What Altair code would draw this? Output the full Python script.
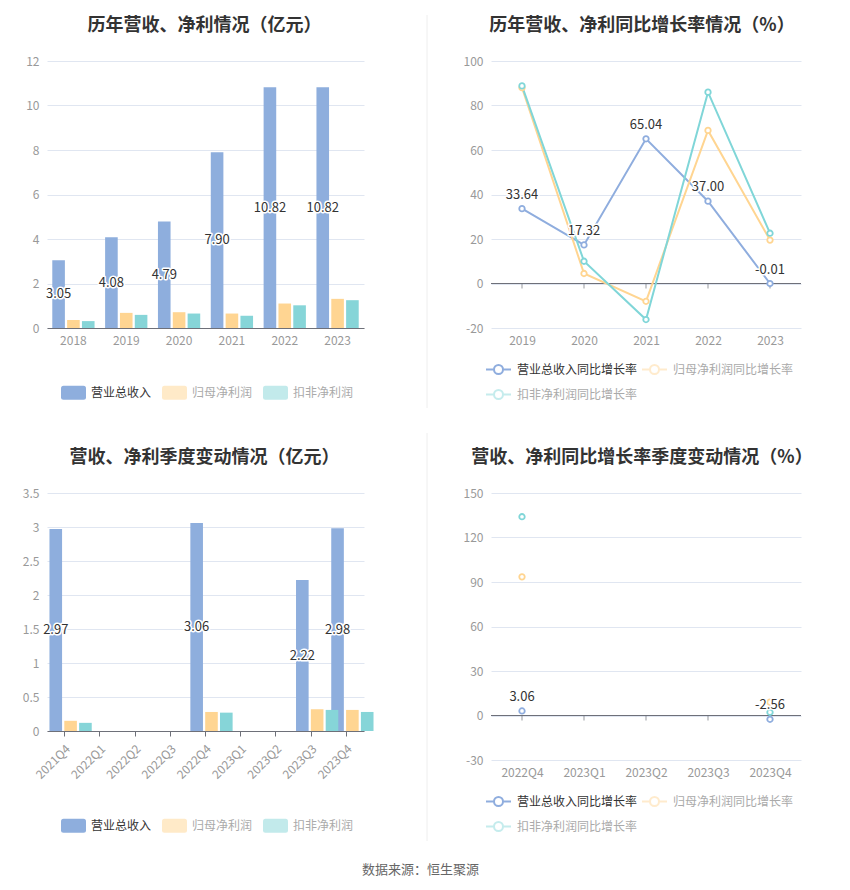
import altair as alt
import pandas as pd

# ---------------- data ----------------
years = ["2018", "2019", "2020", "2021", "2022", "2023"]
revenue = [3.05, 4.08, 4.79, 7.90, 10.82, 10.82]
net_profit = [0.36, 0.68, 0.71, 0.65, 1.10, 1.31]
deducted_profit = [0.31, 0.59, 0.65, 0.55, 1.02, 1.25]

growth_years = ["2019", "2020", "2021", "2022", "2023"]
revenue_growth = [33.64, 17.32, 65.04, 37.00, -0.01]
net_profit_growth = [88.0, 4.5, -8.0, 68.8, 19.5]
deducted_growth = [88.8, 10.0, -16.2, 86.0, 22.6]

quarters = ["2021Q4", "2022Q1", "2022Q2", "2022Q3", "2022Q4",
            "2023Q1", "2023Q2", "2023Q3", "2023Q4"]
q_revenue = [2.97, None, None, None, 3.06, None, None, 2.22, 2.98]
q_net_profit = [0.15, None, None, None, 0.28, None, None, 0.32, 0.31]
q_deducted = [0.12, None, None, None, 0.27, None, None, 0.31, 0.28]

growth_quarters = ["2022Q4", "2023Q1", "2023Q2", "2023Q3", "2023Q4"]
qg_revenue = [3.06, None, None, None, -2.56]
qg_net_profit = [93.5, None, None, None, 9.0]
qg_deducted = [134.0, None, None, None, 2.2]

bar_series = ["营业总收入", "归母净利润", "扣非净利润"]
growth_series = ["营业总收入同比增长率", "归母净利润同比增长率", "扣非净利润同比增长率"]

titles = ["历年营收、净利情况（亿元）", "历年营收、净利同比增长率情况（%）",
          "营收、净利季度变动情况（亿元）", "营收、净利同比增长率季度变动情况（%）"]
source_text = "数据来源：恒生聚源"

# ---------------- style ----------------
FONT = "Noto Sans CJK SC"
BLUE, ORANGE, TEAL = "#8EAEDD", "#FFD592", "#86D5D8"
LINE_COLORS = ["#8FADDE", "#FFD591", "#80D6D8"]
AXIS = "#6E7079"
LABEL = "#999999"
GRID = "#E0E6F1"
DIVIDER = "#EEEEEE"

RECT_PATH = ("M-0.8,-0.56 L0.8,-0.56 Q1,-0.56 1,-0.36 L1,0.36 Q1,0.56 0.8,0.56 "
             "L-0.8,0.56 Q-1,0.56 -1,0.36 L-1,-0.36 Q-1,-0.56 -0.8,-0.56 Z")
LINE_PATH = ("M-1,0 L-0.36,0 M0.36,0 L1,0 M-0.36,0 A0.36,0.36 0 1 1 0.36,0 "
             "A0.36,0.36 0 1 1 -0.36,0 Z")
NUM_LABEL = "'' + datum.value"


def to_long(cats, names, cols):
    rows = []
    for n, col in zip(names, cols):
        for c, v in zip(cats, col):
            if v is not None:
                rows.append({"cat": c, "series": n, "value": v, "label": f"{v:.2f}"})
    return pd.DataFrame(rows)


def panel_title(text, dx):
    return alt.TitleParams(text, font=FONT, fontSize=18, fontWeight="bold",
                           color="#333333", anchor="middle", frame="group",
                           offset=20, dx=dx)


def y_axis(values):
    return alt.Axis(title=None, values=values, labelExpr=NUM_LABEL, domain=False,
                    ticks=False, grid=True, gridColor=GRID, gridWidth=1, labelColor=LABEL,
                    labelFontSize=12, labelFont=FONT, labelPadding=8)


def divider_view(h, y_top, y_bottom):
    return alt.Chart(pd.DataFrame({"d": [0]})).mark_rule(
        color=DIVIDER, strokeWidth=1).encode(
        x=alt.value(0), y=alt.value(y_top), y2=alt.value(y_bottom)).properties(
        width=1, height=h)


def bar_panel(df, cats, title, w, h, ymax, yvals, pad_inner, legend_y,
              label_angle, show_ticks):
    first = bar_series[0]
    legend = alt.Legend(
        title=None, orient="none", legendX=14, legendY=legend_y,
        direction="horizontal", symbolType=RECT_PATH, symbolSize=625,
        symbolStrokeWidth=0, labelFont=FONT, labelFontSize=12, labelOffset=5,
        columnPadding=10,
        symbolOpacity=alt.ExprRef(expr=f"datum.value === '{first}' ? 1 : 0.5"),
        labelColor=alt.ExprRef(expr=f"datum.value === '{first}' ? '#333333' : '#AAAAAA'"))
    x = alt.X("cat:N", sort=cats,
              scale=alt.Scale(domain=cats, paddingInner=pad_inner, paddingOuter=pad_inner / 2),
              axis=alt.Axis(title=None, labelAngle=label_angle, ticks=show_ticks, tickSize=5,
                            tickColor=AXIS, domainColor=AXIS, labelColor=LABEL,
                            labelFontSize=12, labelFont=FONT, labelPadding=7, grid=False))
    xo = alt.XOffset("series:N", sort=bar_series,
                     scale=alt.Scale(domain=bar_series, paddingInner=0.15))
    yscale = alt.Scale(domain=[0, ymax], nice=False)
    y = alt.Y("value:Q", scale=yscale, axis=y_axis(yvals))
    color = alt.Color("series:N", sort=bar_series,
                      scale=alt.Scale(domain=bar_series, range=[BLUE, ORANGE, TEAL]),
                      legend=legend)
    base = alt.Chart(df)
    bars = base.mark_bar().encode(x=x, xOffset=xo, y=y, color=color)
    lab = base.transform_filter(alt.datum.series == first).transform_calculate(
        mid="datum.value / 2").encode(
        x=x, xOffset=xo, y=alt.Y("mid:Q", scale=yscale, axis=y_axis(yvals)),
        text=alt.Text("label:N"))
    halo = lab.mark_text(font=FONT, fontSize=13, stroke="white", strokeWidth=3,
                         strokeJoin="round", fill="white")
    txt = lab.mark_text(font=FONT, fontSize=13, color="#333333")
    return alt.layer(bars, halo, txt).properties(
        width=w, height=h, title=panel_title(title, -1))


def line_panel(df, cats, title, w, h, ymin, ymax, yvals, legend_y, draw_lines):
    first = growth_series[0]
    legend = alt.Legend(
        title=None, orient="none", legendX=-6, legendY=legend_y,
        direction="horizontal", columns=2, symbolType=LINE_PATH, symbolSize=625,
        symbolStrokeWidth=2, symbolFillColor="white", labelFont=FONT, labelFontSize=12,
        labelOffset=5, columnPadding=0, rowPadding=3,
        symbolOpacity=alt.ExprRef(expr=f"datum.value === '{first}' ? 1 : 0.45"),
        labelColor=alt.ExprRef(expr=f"datum.value === '{first}' ? '#333333' : '#AAAAAA'"))
    x = alt.X("cat:N", sort=cats, scale=alt.Scale(type="point", domain=cats, padding=0.5),
              axis=alt.Axis(title=None, domain=False, ticks=False, labelAngle=0,
                            labelColor=LABEL, labelFontSize=12, labelFont=FONT,
                            labelPadding=7, grid=False))
    y = alt.Y("value:Q", scale=alt.Scale(domain=[ymin, ymax], nice=False, zero=False),
              axis=y_axis(yvals))
    color = alt.Color("series:N", sort=growth_series,
                      scale=alt.Scale(domain=growth_series, range=LINE_COLORS),
                      legend=legend)
    base = alt.Chart(df)
    zero = alt.Chart(pd.DataFrame({"z": [0]})).mark_rule(color=AXIS, strokeWidth=1).encode(
        y=alt.datum(0))
    tks = alt.Chart(pd.DataFrame({"cat": cats})).mark_tick(
        orient="vertical", size=5, thickness=1, color=AXIS, yOffset=2.5).encode(
        x=x, y=alt.datum(0))
    layers = [zero, tks]
    if draw_lines:
        layers.append(base.mark_line(strokeWidth=2).encode(x=x, y=y, color=color))
    layers.append(base.mark_point(shape="circle", filled=False, fill="white", fillOpacity=1,
                                  size=30, strokeWidth=1.8, opacity=1).encode(
        x=x, y=y, color=color))
    lab = base.transform_filter(alt.datum.series == first).encode(
        x=x, y=y, text=alt.Text("label:N"))
    layers.append(lab.mark_text(font=FONT, fontSize=13, dy=-14, stroke="white",
                                strokeWidth=3, strokeJoin="round", fill="white"))
    layers.append(lab.mark_text(font=FONT, fontSize=13, dy=-14, color="#333333"))
    return alt.layer(*layers).properties(width=w, height=h, title=panel_title(title, -4))


df1 = to_long(years, bar_series, [revenue, net_profit, deducted_profit])
df2 = to_long(growth_years, growth_series, [revenue_growth, net_profit_growth, deducted_growth])
df3 = to_long(quarters, bar_series, [q_revenue, q_net_profit, q_deducted])
df4 = to_long(growth_quarters, growth_series, [qg_revenue, qg_net_profit, qg_deducted])

p1 = bar_panel(df1, years, titles[0], 317, 267, 12, [0, 2, 4, 6, 8, 10, 12],
               0.2, 319, 0, False)
p2 = line_panel(df2, growth_years, titles[1], 310, 267, -20, 100,
                [-20, 0, 20, 40, 60, 80, 100], 295, True)
p3 = bar_panel(df3, quarters, titles[2], 317, 238, 3.5,
               [0, 0.5, 1, 1.5, 2, 2.5, 3, 3.5], 0.14, 320, -45, True)
p4 = line_panel(df4, growth_quarters, titles[3], 310, 267, -30, 150,
                [-30, 0, 30, 60, 90, 120, 150], 295, False)
d1 = divider_view(267, -46, 347)
d2 = divider_view(267, -60, 348)

chart = alt.concat(
    p1, d1, p2, p3, d2, p4, columns=3, spacing={"row": 165, "column": 63},
    bounds="flush",
    title=alt.TitleParams(source_text, orient="bottom", anchor="middle", font=FONT,
                          fontSize=13, fontWeight="normal", color="#666666", offset=22,
                          dx=3),
    padding={"left": 14, "top": 6, "right": 5, "bottom": 5},
).resolve_scale(color="independent").configure(font=FONT).configure_view(
    stroke="transparent", strokeWidth=0)

chart.save("out.html", embed_options={"renderer": "svg", "actions": False})
